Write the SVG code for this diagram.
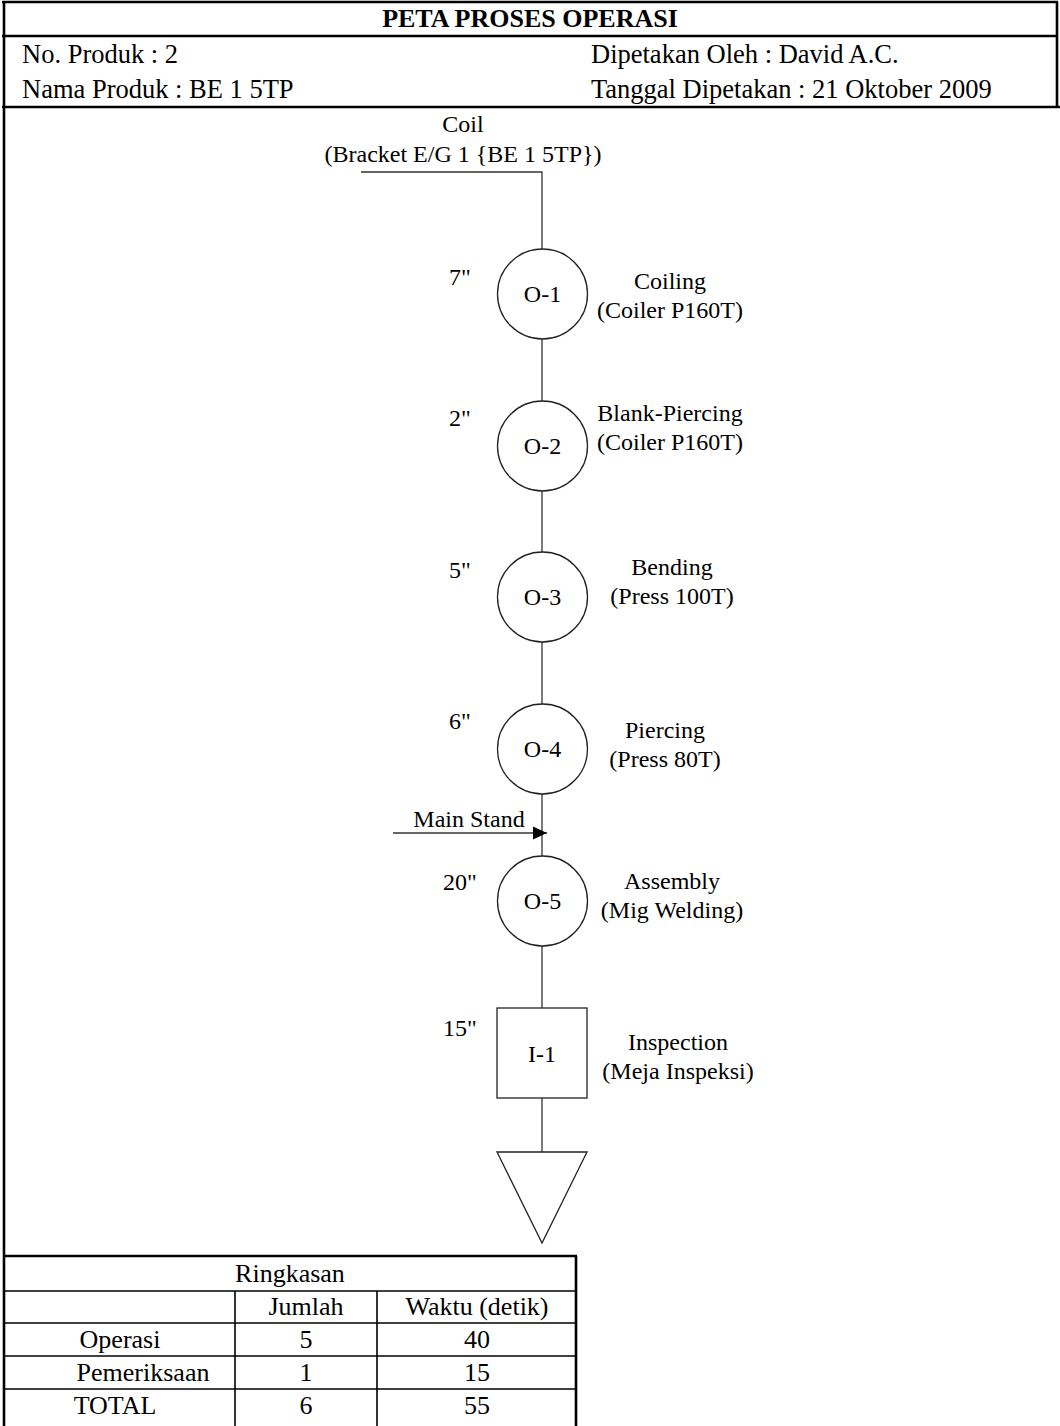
<svg xmlns="http://www.w3.org/2000/svg" width="1060" height="1426" viewBox="0 0 1060 1426">
<style>
text{font-family:"Liberation Serif","Times New Roman",serif;fill:#000}
.h{font-size:26.5px}
.t{font-size:26px;font-weight:bold}
.l{font-size:24px}
.tb{font-size:26px}
.m{text-anchor:middle}
.frame{stroke:#000;stroke-width:2.6;fill:none}
.thin{stroke:#000;stroke-width:1.6;fill:none}
.sym{stroke:#222;stroke-width:1.3;fill:#fff}
.con{stroke:#333;stroke-width:1.3;fill:none}
</style>
<defs>
<marker id="ah" markerWidth="14" markerHeight="14" refX="14" refY="7" orient="auto" markerUnits="userSpaceOnUse">
<path d="M0,0.5 L14,7 L0,13.5 Z" fill="#000"/>
</marker>
</defs>
<rect width="1060" height="1426" fill="#fff"/>
<g id="header">
<line class="frame" x1="2" y1="2" x2="1058" y2="2"/>
<line class="frame" x1="1057" y1="2" x2="1057" y2="108"/>
<line class="frame" x1="4" y1="2" x2="4" y2="1426"/>
<line class="frame" x1="2" y1="36" x2="1058" y2="36"/>
<line class="frame" x1="2" y1="107" x2="1060" y2="107"/>
<text class="t m" x="530" y="27">PETA PROSES OPERASI</text>
<text class="h" x="22" y="63">No. Produk : 2</text>
<text class="h" x="22" y="98">Nama Produk : BE 1 5TP</text>
<text class="h" x="591" y="63">Dipetakan Oleh : David A.C.</text>
<text class="h" x="591" y="98">Tanggal Dipetakan : 21 Oktober 2009</text>
</g>
<g id="connectors">
<polyline class="con" points="361,172 542,172 542,249"/>
<line class="con" x1="542" y1="339" x2="542" y2="401"/>
<line class="con" x1="542" y1="491" x2="542" y2="552"/>
<line class="con" x1="542" y1="642" x2="542" y2="704"/>
<line class="con" x1="542" y1="794" x2="542" y2="856"/>
<line class="con" x1="542" y1="946" x2="542" y2="1008"/>
<line class="con" x1="542" y1="1098" x2="542" y2="1152"/>
<line class="con" x1="393" y1="833" x2="547" y2="833" stroke="#000" marker-end="url(#ah)"/>
<text class="l m" x="469" y="827">Main Stand</text>
</g>
<g id="coil">
<text class="l m" x="463" y="132">Coil</text>
<text class="l m" x="463" y="162">(Bracket E/G 1 {BE 1 5TP})</text>
</g>
<g id="O-1">
<circle class="sym" cx="542.5" cy="294" r="45"/>
<text class="l m" x="542.5" y="302">O-1</text>
<text class="l m" x="460" y="285">7"</text>
<text class="l m" x="670" y="289">Coiling</text>
<text class="l m" x="670" y="318">(Coiler P160T)</text>
</g>
<g id="O-2">
<circle class="sym" cx="542.5" cy="446" r="45"/>
<text class="l m" x="542.5" y="454">O-2</text>
<text class="l m" x="460" y="426">2"</text>
<text class="l m" x="670" y="421">Blank-Piercing</text>
<text class="l m" x="670" y="450">(Coiler P160T)</text>
</g>
<g id="O-3">
<circle class="sym" cx="542.5" cy="597" r="45"/>
<text class="l m" x="542.5" y="605">O-3</text>
<text class="l m" x="460" y="578">5"</text>
<text class="l m" x="672" y="575">Bending</text>
<text class="l m" x="672" y="604">(Press 100T)</text>
</g>
<g id="O-4">
<circle class="sym" cx="542.5" cy="749" r="45"/>
<text class="l m" x="542.5" y="757">O-4</text>
<text class="l m" x="460" y="729">6"</text>
<text class="l m" x="665" y="738">Piercing</text>
<text class="l m" x="665" y="767">(Press 80T)</text>
</g>
<g id="O-5">
<circle class="sym" cx="542.5" cy="901" r="45"/>
<text class="l m" x="542.5" y="909">O-5</text>
<text class="l m" x="460" y="890">20"</text>
<text class="l m" x="672" y="889">Assembly</text>
<text class="l m" x="672" y="918">(Mig Welding)</text>
</g>
<g id="I-1">
<rect class="sym" x="497" y="1008" width="90" height="90"/>
<text class="l m" x="542" y="1062">I-1</text>
<text class="l m" x="460" y="1036">15"</text>
<text class="l m" x="678" y="1050">Inspection</text>
<text class="l m" x="678" y="1079">(Meja Inspeksi)</text>
</g>
<g id="storage">
<polygon class="sym" points="497,1152 587,1152 542,1243"/>
</g>
<g id="summary">
<line class="frame" x1="3" y1="1256" x2="577" y2="1256"/>
<line class="frame" x1="576" y1="1256" x2="576" y2="1426"/>
<line class="thin" x1="4" y1="1291" x2="576" y2="1291"/>
<line class="thin" x1="4" y1="1323" x2="576" y2="1323"/>
<line class="thin" x1="4" y1="1356" x2="576" y2="1356"/>
<line class="thin" x1="4" y1="1389" x2="576" y2="1389"/>
<line class="thin" x1="235" y1="1291" x2="235" y2="1426"/>
<line class="thin" x1="377" y1="1291" x2="377" y2="1426"/>
<text class="tb m" x="290" y="1282">Ringkasan</text>
<text class="tb m" x="306" y="1315">Jumlah</text>
<text class="tb m" x="477" y="1315">Waktu (detik)</text>
<text class="tb m" x="120" y="1348">Operasi</text>
<text class="tb m" x="306" y="1348">5</text>
<text class="tb m" x="477" y="1348">40</text>
<text class="tb m" x="143" y="1381">Pemeriksaan</text>
<text class="tb m" x="306" y="1381">1</text>
<text class="tb m" x="477" y="1381">15</text>
<text class="tb m" x="115" y="1414">TOTAL</text>
<text class="tb m" x="306" y="1414">6</text>
<text class="tb m" x="477" y="1414">55</text>
</g>
</svg>
